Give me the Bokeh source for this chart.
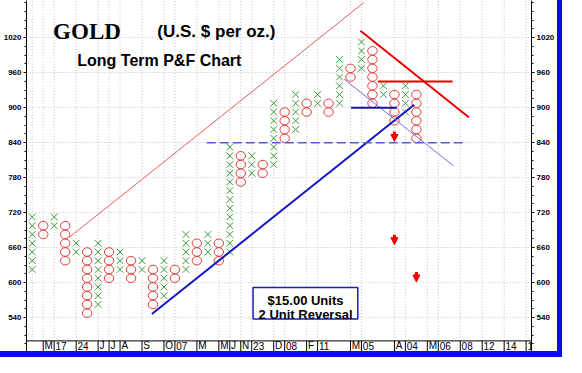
from bokeh.plotting import figure
from bokeh.models import Range1d, LinearAxis, FixedTicker, Arrow, NormalHead
from bokeh.embed import file_html
from bokeh.resources import INLINE
from bokeh.core.properties import value

BOX = 15
# Point & figure columns: type, lowest box, highest box (box bottoms, $)
col_type = ["X", "O", "X", "O", "X", "O", "X", "O", "X", "O", "X", "O",
            "X", "O", "X", "O", "X", "O", "X", "O", "X", "O", "X", "O",
            "X", "O", "X", "O", "X", "O", "X", "O", "X", "O", "X", "O"]
col_low = [615, 675, 690, 630, 645, 540, 555, 600, 615, 600, 615, 555,
           570, 600, 615, 630, 645, 630, 645, 765, 780, 780, 795, 840,
           855, 885, 900, 885, 900, 945, 960, 900, 915, 870, 885, 840]
col_high = [705, 690, 705, 690, 660, 645, 660, 645, 645, 630, 630, 615,
            630, 615, 675, 660, 675, 660, 825, 810, 810, 795, 900, 885,
            915, 900, 915, 900, 975, 960, 1005, 990, 930, 915, 930, 915]

# y-axis ticks
y_major = [540, 600, 660, 720, 780, 840, 900, 960, 1020]
y_minor = list(range(495, 1081, 15))

# date band: separator columns and labels
sep_cols = [1, 2, 4, 6, 7, 8, 10, 12, 13, 15, 17, 18, 19, 20, 22, 23, 25, 26,
            29, 30, 33, 34, 36, 37, 39, 41, 43, 45]
sep_labels = ["M", "17", "24", "J", "J", "A", "S", "O", "07", "M", "M", "J", "N",
              "23", "D", "08", "F", "11", "M", "05", "A", "04", "M", "06", "08",
              "12", "14", "1"]

# trend lines (column index, price)
red_channel = ([3.4, 30.2], [678, 1080])
blue_support = ([10.9, 34.8], [546, 905])
blue_thin = ([28.4, 38.4], [949, 800])
red_resist = ([29.9, 39.8], [1032, 883])
red_level = ([31.5, 38.3], [945, 945])
blue_level = ([29.05, 33.2], [900, 900])
dash_level = ([15.9, 39.3], [840, 840])

# price-target arrows
arrow_x = [33, 33, 35]
arrow_y = [848, 671, 607]

BAND_TOP = 500
Y0, Y1 = 481.8, 1083.8
X0, X1 = -0.525, 45.49

xs_x, xs_y, os_x, os_y = [], [], [], []
for i, (t, lo, hi) in enumerate(zip(col_type, col_low, col_high)):
    for v in range(lo, hi + 1, BOX):
        if t == "X":
            xs_x.append(i); xs_y.append(v + BOX / 2)
        else:
            os_x.append(i); os_y.append(v + BOX / 2)

B = "#0c0cdc"
p = figure(width=557, height=351, x_range=Range1d(X0, X1), y_range=Range1d(Y0, Y1),
           output_backend="svg", toolbar_location=None, x_axis_location=None,
           min_border_left=22, min_border_right=23, min_border_top=0, min_border_bottom=0)
p.styles = {"box-shadow": f"-4px 0 0 0 {B}, 5px 0 0 0 {B}, 0 6px 0 0 {B}, "
                          f"-4px 6px 0 0 {B}, 5px 6px 0 0 {B}"}
p.outline_line_color = None
p.background_fill_color = "white"
p.border_fill_color = "white"

ticker = FixedTicker(ticks=y_major, minor_ticks=y_minor)
p.yaxis.ticker = ticker
raxis = LinearAxis(ticker=ticker)
p.add_layout(raxis, "right")
for ax in p.yaxis:
    ax.axis_line_color = "black"
    ax.major_tick_out = 3
    ax.major_tick_in = 0
    ax.minor_tick_out = 2
    ax.minor_tick_in = 0
    ax.major_label_standoff = 2
    ax.major_label_text_font = "Liberation Sans"
    ax.major_label_text_font_size = "8px"
    ax.major_label_text_font_style = "bold"
    ax.major_label_text_color = "black"

p.ygrid.grid_line_color = "#c4c4c4"
p.ygrid.grid_line_dash = "1 2"
p.xgrid.visible = False

# vertical dotted grid at date separators
gcols = [0] + sep_cols
p.segment(x0=gcols, y0=[BAND_TOP] * len(gcols), x1=gcols, y1=[Y1] * len(gcols),
          line_color="#c4c4c4", line_dash="1 2", line_width=1)

# date band
p.segment(x0=[X0], y0=[BAND_TOP], x1=[X1], y1=[BAND_TOP], line_color="black", line_width=1)
p.segment(x0=sep_cols, y0=[Y0] * len(sep_cols), x1=sep_cols, y1=[BAND_TOP] * len(sep_cols),
          line_color="black", line_width=1)
p.text(x=[c + 0.12 for c in sep_cols], y=[491.5] * len(sep_cols), text=sep_labels,
       text_font=value("Liberation Sans"), text_font_size="10px",
       text_baseline="middle", text_align="left", text_color="black")

# X and O boxes
p.scatter(x=xs_x, y=xs_y, marker="x", size=9.5, line_color="#3c9a3c", line_width=1)
p.ellipse(x=os_x, y=os_y, width=0.86, height=14.6, fill_color=None,
          line_color="#e23c3c", line_width=1)

# trend lines
p.line(*red_channel, line_color="#ec5a5a", line_width=1)
p.line(*blue_support, line_color="#1414c8", line_width=2)
p.line(*blue_thin, line_color="#7272d8", line_width=1)
p.line(*red_resist, line_color="#e60000", line_width=2)
p.line(*red_level, line_color="#e60000", line_width=2)
p.line(*blue_level, line_color="#1414a8", line_width=2)
p.line(*dash_level, line_color="#5a5ad2", line_width=1.5, line_dash="9 4")

for ax_, ay_ in zip(arrow_x, arrow_y):
    p.add_layout(Arrow(end=NormalHead(size=7, fill_color="#ee0000", line_color="#ee0000"),
                       x_start=ax_, y_start=ay_ + 11, x_end=ax_, y_end=ay_ - 6,
                       line_color="#ee0000", line_width=3))

# titles
p.text(x=[1.9], y=[1030], text=["GOLD"], text_font=value("Liberation Serif"),
       text_font_size="23px", text_font_style="bold", text_baseline="alphabetic",
       text_color="black")
p.text(x=[11.4], y=[1030], text=["(U.S. $ per oz.)"], text_font=value("Liberation Sans"),
       text_font_size="17px", text_font_style="bold", text_baseline="alphabetic",
       text_color="black")
p.text(x=[4.1], y=[980.5], text=["Long Term P&F Chart"], text_font=value("Liberation Sans"),
       text_font_size="16px", text_font_style="bold", text_baseline="alphabetic",
       text_color="black")

# unit box
p.quad(left=[20.12], right=[29.66], bottom=[537.5], top=[591.4], fill_color="white",
       line_color="#1a1acc", line_width=1.5)
p.text(x=[24.9, 24.9], y=[569, 545], text=["$15.00 Units", "2 Unit Reversal"],
       text_font=value("Liberation Sans"), text_font_size="13px", text_font_style="bold",
       text_align="center", text_baseline="alphabetic", text_color="black")

open("out.html", "w").write(file_html(p, INLINE))
